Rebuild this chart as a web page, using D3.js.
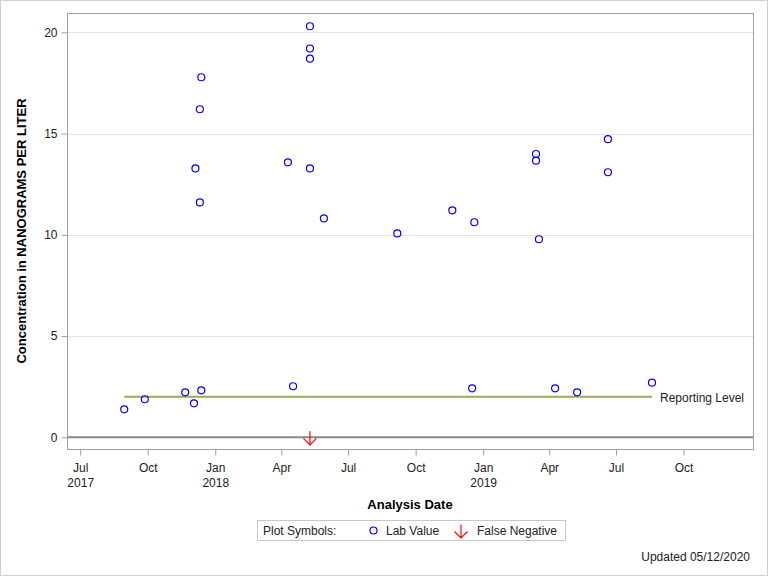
<!DOCTYPE html>
<html>
<head>
<meta charset="utf-8">
<script src="https://cdn.jsdelivr.net/npm/d3@7"></script>
<style>
  body { margin: 0; background: #fff; }
  svg { display: block; font-family: Arial, "Liberation Sans", sans-serif; }
</style>
</head>
<body>
<svg id="chart" width="768" height="576"></svg>
<script>
// ---- data ----
const labDates = [
  "2017-08-30","2017-09-27","2017-11-21","2017-12-03","2017-12-05","2017-12-11","2017-12-11","2017-12-13","2017-12-13",
  "2018-04-10","2018-04-17","2018-05-10","2018-05-10","2018-05-10","2018-05-10","2018-05-29",
  "2018-09-06","2018-11-20","2018-12-17","2018-12-20",
  "2019-03-14","2019-03-14","2019-03-18","2019-04-09","2019-05-09","2019-06-20","2019-06-20","2019-08-19"
];
const labValues = [
  1.38, 1.88, 2.22, 1.68, 13.28, 11.6, 16.2, 2.32, 17.78,
  13.58, 2.52, 20.3, 19.2, 18.7, 13.28, 10.81,
  10.07, 11.21, 2.42, 10.62,
  13.99, 13.66, 9.78, 2.42, 2.22, 14.72, 13.09, 2.70
];
const falseNegDates = ["2018-05-10"];
const falseNegValues = [0];
const reportingLevel = 2.0;
const reportingDates = ["2017-08-30", "2019-08-19"];
const yTicks = [0, 5, 10, 15, 20];
const xTickDates = ["2017-07-01","2017-10-01","2018-01-01","2018-04-01","2018-07-01","2018-10-01","2019-01-01","2019-04-01","2019-07-01","2019-10-01"];
const xTickMonths = ["Jul","Oct","Jan","Apr","Jul","Oct","Jan","Apr","Jul","Oct"];
const xTickYears = ["2017","","2018","","","","2019","","",""];

// ---- layout ----
const svg = d3.select("#chart");
const W = 768, H = 576;
const L = 67, R = 754, T = 13, B = 450;
const parse = d3.utcParse("%Y-%m-%d");

const x = d3.scaleUtc().domain([parse("2017-06-13"), parse("2020-01-05")]).range([L, R]);
const y = d3.scaleLinear().domain([0, 20]).range([437.3, 32.3]);

// outer border
svg.append("rect").attr("x", 0.5).attr("y", 0.5).attr("width", W - 1).attr("height", H - 1)
  .attr("fill", "#fff").attr("stroke", "#d0d0d0");

// gridlines
svg.append("g").selectAll("line").data(yTicks.filter(d => d !== 0)).join("line")
  .attr("x1", L).attr("x2", R)
  .attr("y1", d => Math.round(y(d)) + 0.5).attr("y2", d => Math.round(y(d)) + 0.5)
  .attr("stroke", "#e4e4e4").attr("stroke-width", 1);

// zero line
svg.append("line").attr("x1", L).attr("x2", R).attr("y1", y(0)).attr("y2", y(0))
  .attr("stroke", "#8a8a8a").attr("stroke-width", 2);

// plot frame
svg.append("rect").attr("x", L + 0.5).attr("y", T + 0.5).attr("width", R - L - 1).attr("height", B - T - 1)
  .attr("fill", "none").attr("stroke", "#a0a0a0");

// y axis
const yAxis = d3.axisLeft(y).tickValues(yTicks).tickSize(6).tickPadding(4).tickFormat(d3.format("d"));
const gy = svg.append("g").attr("transform", `translate(${L + 0.5},0)`).call(yAxis);
gy.select(".domain").remove();
gy.selectAll(".tick line").attr("stroke", "#a0a0a0");
gy.selectAll(".tick text").attr("fill", "#222").attr("font-size", 12).attr("font-family", "Arial, 'Liberation Sans', sans-serif");

// x axis
const xTickVals = xTickDates.map(parse);
const xAxis = d3.axisBottom(x).tickValues(xTickVals).tickSize(6).tickFormat("");
const gx = svg.append("g").attr("transform", `translate(0,${B - 0.5})`).call(xAxis);
gx.select(".domain").remove();
gx.selectAll(".tick line").attr("stroke", "#a0a0a0");
gx.selectAll(".tick").each(function(d, i) {
  const g = d3.select(this);
  g.append("text").attr("y", 22).attr("text-anchor", "middle").attr("fill", "#222")
    .attr("font-size", 12).text(xTickMonths[i]);
  if (xTickYears[i]) {
    g.append("text").attr("y", 37).attr("text-anchor", "middle").attr("fill", "#222")
      .attr("font-size", 12).text(xTickYears[i]);
  }
});

// reporting level line
svg.append("line")
  .attr("x1", x(parse(reportingDates[0]))).attr("x2", x(parse(reportingDates[1])))
  .attr("y1", y(reportingLevel)).attr("y2", y(reportingLevel))
  .attr("stroke", "#94ae55").attr("stroke-width", 2);
svg.append("text").attr("x", x(parse(reportingDates[1])) + 8).attr("y", y(reportingLevel) + 5)
  .attr("font-size", 12).attr("fill", "#222").text("Reporting Level");

// lab value points
svg.append("g").selectAll("circle").data(labDates.map((d, i) => ({d: parse(d), v: labValues[i]}))).join("circle")
  .attr("cx", p => x(p.d)).attr("cy", p => y(p.v)).attr("r", 3.5)
  .attr("fill", "none").attr("stroke", "#0000ff").attr("stroke-width", 1.2);

// false negative arrows
function arrow(g, cx, cy) {
  g.append("path")
    .attr("d", `M${cx},${cy - 6} L${cx},${cy + 7.5} M${cx - 6.5},${cy + 1} L${cx},${cy + 7.5} L${cx + 6.5},${cy + 1}`)
    .attr("fill", "none").attr("stroke", "#ff0000").attr("stroke-width", 1.2);
}
const gfn = svg.append("g");
falseNegDates.forEach((d, i) => arrow(gfn, x(parse(d)), y(falseNegValues[i])));

// axis titles
svg.append("text").attr("transform", `translate(26,231) rotate(-90)`)
  .attr("text-anchor", "middle").attr("font-size", 13).attr("font-weight", "bold").attr("fill", "#000")
  .text("Concentration in NANOGRAMS PER LITER");
svg.append("text").attr("x", 410).attr("y", 509)
  .attr("text-anchor", "middle").attr("font-size", 13).attr("font-weight", "bold").attr("fill", "#000")
  .text("Analysis Date");

// legend
const lg = svg.append("g");
lg.append("rect").attr("x", 257.5).attr("y", 520.5).attr("width", 308).attr("height", 20)
  .attr("fill", "#fff").attr("stroke", "#c8c8c8");
lg.append("text").attr("x", 263).attr("y", 535).attr("font-size", 12).attr("fill", "#222").text("Plot Symbols:");
lg.append("circle").attr("cx", 373.5).attr("cy", 530.5).attr("r", 3.5)
  .attr("fill", "none").attr("stroke", "#0000ff").attr("stroke-width", 1.2);
lg.append("text").attr("x", 386).attr("y", 535).attr("font-size", 12).attr("fill", "#222").text("Lab Value");
arrow(lg, 461, 530.5);
lg.append("text").attr("x", 477).attr("y", 535).attr("font-size", 12).attr("fill", "#222").text("False Negative");

// footnote
svg.append("text").attr("x", 750).attr("y", 561).attr("text-anchor", "end")
  .attr("font-size", 12).attr("fill", "#222").text("Updated 05/12/2020");
</script>
</body>
</html>
